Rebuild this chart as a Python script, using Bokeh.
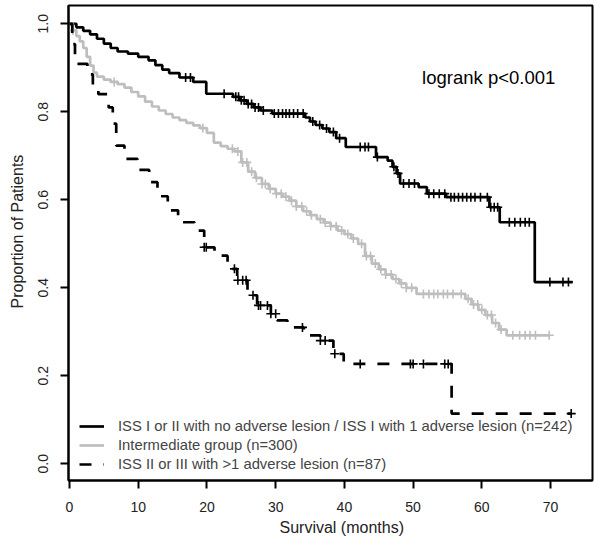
import numpy as np
from bokeh.plotting import figure
from bokeh.models import Range1d, FixedTicker, Label, Legend, LegendItem, Title
from bokeh.embed import file_html
from bokeh.resources import INLINE

# ---------------- data ----------------
x_ticks = [0, 10, 20, 30, 40, 50, 60, 70]
y_ticks = [0.0, 0.2, 0.4, 0.6, 0.8, 1.0]
y_tick_labels = ["0.0", "0.2", "0.4", "0.6", "0.8", "1.0"]

# group 1: ISS I or II with no adverse lesion / ISS I with 1 adverse lesion (n=242)
g1_time = [0, 1, 2, 3, 4, 5, 6, 7, 8.5, 10, 11.5, 12.5, 13.5, 14.5, 16, 18, 19.9,
           23.8, 24.8, 25.8, 26.8, 27.8, 29.5, 34.3, 35, 35.8, 36.8, 37.8, 38.8, 40.2,
           44.6, 46.3, 47, 47.6, 48.1, 50.8, 52, 54.8, 61.1, 62.6, 67.7]
g1_surv = [1.0, 0.992, 0.984, 0.976, 0.966, 0.955, 0.945, 0.937, 0.932, 0.925, 0.917,
           0.906, 0.896, 0.888, 0.878, 0.868, 0.841, 0.834, 0.826, 0.818, 0.81, 0.803,
           0.796, 0.787, 0.778, 0.77, 0.762, 0.754, 0.74, 0.72, 0.697, 0.689, 0.675,
           0.66, 0.637, 0.629, 0.614, 0.606, 0.583, 0.549, 0.413]
g1_end = 73.2
g1_censor = [16.9, 17.6, 22.5, 24.2, 24.6, 25.0, 25.4, 26.0, 26.5, 27.0, 27.5, 28.2, 29.8,
             30.4, 31.0, 31.5, 32.0, 32.6, 33.2, 34.0, 35.4, 36.4, 37.4, 38.4, 39.3, 42.3,
             43.0, 43.5, 44.8, 47.2, 47.8, 48.6, 49.4, 50.2, 52.3, 53.0, 53.8, 54.6, 55.5,
             56.0, 56.6, 57.2, 57.8, 58.4, 59.0, 59.8, 60.8, 61.3, 61.8, 62.3, 64.0, 64.8,
             65.6, 66.3, 66.9, 69.9, 71.8, 72.6]

# group 2: Intermediate group (n=300)
g2_time = [0, 0.5, 1, 1.5, 2, 2.5, 3, 3.5, 4, 5, 6, 7, 8, 9, 10, 11, 12, 13, 14, 15, 16,
           17, 18, 19, 20, 21, 22, 23, 24, 25, 26, 27, 28, 29, 30, 31, 32, 33, 34, 35,
           36, 37, 38, 39, 40, 41, 42, 43, 44, 45, 46, 47, 48, 49, 50.5, 57.6, 58.5,
           59.5, 60.5, 61.5, 62.5, 63.6]
g2_surv = [1.0, 0.985, 0.972, 0.96, 0.945, 0.925, 0.905, 0.889, 0.88, 0.873, 0.868,
           0.863, 0.855, 0.845, 0.835, 0.823, 0.812, 0.803, 0.795, 0.787, 0.781, 0.775,
           0.769, 0.763, 0.752, 0.73, 0.722, 0.716, 0.71, 0.685, 0.664, 0.65, 0.636,
           0.625, 0.614, 0.607, 0.598, 0.585, 0.574, 0.565, 0.556, 0.548, 0.54, 0.53,
           0.522, 0.512, 0.5, 0.472, 0.455, 0.442, 0.43, 0.42, 0.41, 0.4, 0.386, 0.375,
           0.362, 0.35, 0.338, 0.32, 0.305, 0.292]
g2_end = 69.9
g2_censor = [0.5, 6.5, 19.4, 23.7, 24.5, 25.2, 25.8, 26.5, 27.2, 28.0, 28.5, 29.2, 30.1,
             30.8, 31.5, 32.3, 33.0, 33.8, 34.5, 35.2, 36.5, 37.2, 38.0, 38.8, 39.6, 40.5,
             41.3, 42.5, 43.2, 43.8, 44.5, 45.3, 46.0, 46.8, 47.5, 48.3, 49.0, 49.8, 51.5,
             52.3, 53.0, 53.6, 54.4, 55.0, 55.8, 57.0, 58.0, 58.8, 59.4, 60.0, 60.8, 61.4,
             62.0, 62.8, 64.5, 65.5, 66.3, 67.0, 67.8, 69.8]

# group 3: ISS II or III with >1 adverse lesion (n=87)
g3_time = [0, 0.4, 0.8, 2.6, 3.4, 4.2, 5.7, 6.3, 6.8, 8.0, 9.9, 11.6, 12.8, 14.3, 15.8,
           18.2, 19.6, 21.1, 23.0, 24.4, 25.9, 27.3, 29.3, 30.2, 31.7, 34.1, 36.5, 38.4,
           39.9, 55.6]
g3_surv = [1.0, 0.954, 0.909, 0.885, 0.862, 0.84, 0.81, 0.773, 0.723, 0.693, 0.668,
           0.64, 0.608, 0.576, 0.549, 0.53, 0.492, 0.473, 0.443, 0.417, 0.383, 0.36,
           0.341, 0.326, 0.31, 0.292, 0.28, 0.25, 0.227, 0.114]
g3_end = 73.0
g3_censor = [19.6, 19.9, 24.0, 24.5, 25.2, 25.7, 26.7, 27.5, 27.8, 28.8, 29.3, 30.0,
             33.9, 36.5, 37.2, 38.6, 42.3, 49.6, 50.0, 51.5, 54.6, 55.1, 73.0]

labels = ["ISS I or II with no adverse lesion / ISS I with 1 adverse lesion (n=242)",
          "Intermediate group (n=300)",
          "ISS II or III with >1 adverse lesion (n=87)"]
annotation = "logrank p<0.001"
x_title = "Survival (months)"
y_title = "Proportion of Patients"

FONT = "Liberation Sans"


def step_xy(t, s, end):
    return list(t) + [end], list(s) + [s[-1]]


def surv_at(t, s, c):
    idx = np.searchsorted(np.array(t), np.array(c), side="right") - 1
    return list(np.array(s)[idx])


p = figure(width=600, height=542, output_backend="svg", toolbar_location=None,
           x_range=Range1d(-0.145, 76.1), y_range=Range1d(-0.038, 1.0416),
           min_border_left=67, min_border_right=8, min_border_top=5, min_border_bottom=62)
p.grid.visible = False
p.outline_line_color = "black"
p.outline_line_width = 2
p.background_fill_color = "white"

groups = [
    (g1_time, g1_surv, g1_end, g1_censor, "black", "solid"),
    (g2_time, g2_surv, g2_end, g2_censor, "#BEBEBE", "solid"),
    (g3_time, g3_surv, g3_end, g3_censor, "black", "12 12"),
]
items = []
for (t, s, end, cens, col, dash), lab in zip(groups, labels):
    assert len(t) == len(s)
    xs, ys = step_xy(t, s, end)
    r = p.step(xs, ys, mode="after", line_color=col, line_width=2.7, line_dash=dash)
    p.scatter(cens, surv_at(t, s, cens), marker="cross", size=9, line_color=col,
              line_width=1.6)
    items.append(LegendItem(label=lab, renderers=[r]))

legend = Legend(items=items, location=(11, 7))
legend.background_fill_alpha = 0
legend.border_line_color = None
legend.label_text_font = FONT
legend.label_text_font_size = "14.8px"
legend.glyph_width = 25
legend.glyph_height = 18
legend.label_height = 18
legend.spacing = 1
legend.label_standoff = 14
legend.margin = 0
legend.padding = 0
p.add_layout(legend, "center")

p.add_layout(Label(x=51.3, y=0.877, text=annotation,
                   text_font=FONT, text_font_size="18.5px", text_baseline="middle",
                   text_align="left", text_color="black"))

for ax in (p.xaxis[0], p.yaxis[0]):
    ax.axis_line_width = 2
    ax.major_tick_line_width = 2
    ax.major_tick_out = 8
    ax.major_tick_in = 0
    ax.minor_tick_line_color = None
    ax.major_label_text_font = FONT
    ax.major_label_text_font_size = "14px"
    ax.major_label_text_color = "#222222"

p.xaxis.ticker = FixedTicker(ticks=x_ticks)
p.xaxis.major_label_standoff = 13

p.yaxis.ticker = FixedTicker(ticks=y_ticks)
p.yaxis.major_label_overrides = {v: l for v, l in zip(y_ticks, y_tick_labels)}
p.yaxis.major_label_orientation = "vertical"
p.yaxis.major_label_standoff = 12

# axis titles as side titles, placed slightly off the frame centre as in the reference
p.add_layout(Title(text=x_title, align="left", offset=211, standoff=9,
                   vertical_align="top",
                   text_font=FONT, text_font_size="16px", text_font_style="normal",
                   text_color="#222222"), "below")
p.add_layout(Title(text=y_title, align="left", offset=172, standoff=16,
                   vertical_align="top",
                   text_font=FONT, text_font_size="16px", text_font_style="normal",
                   text_color="#222222"), "left")

open("out.html", "w").write(file_html(p, INLINE))
